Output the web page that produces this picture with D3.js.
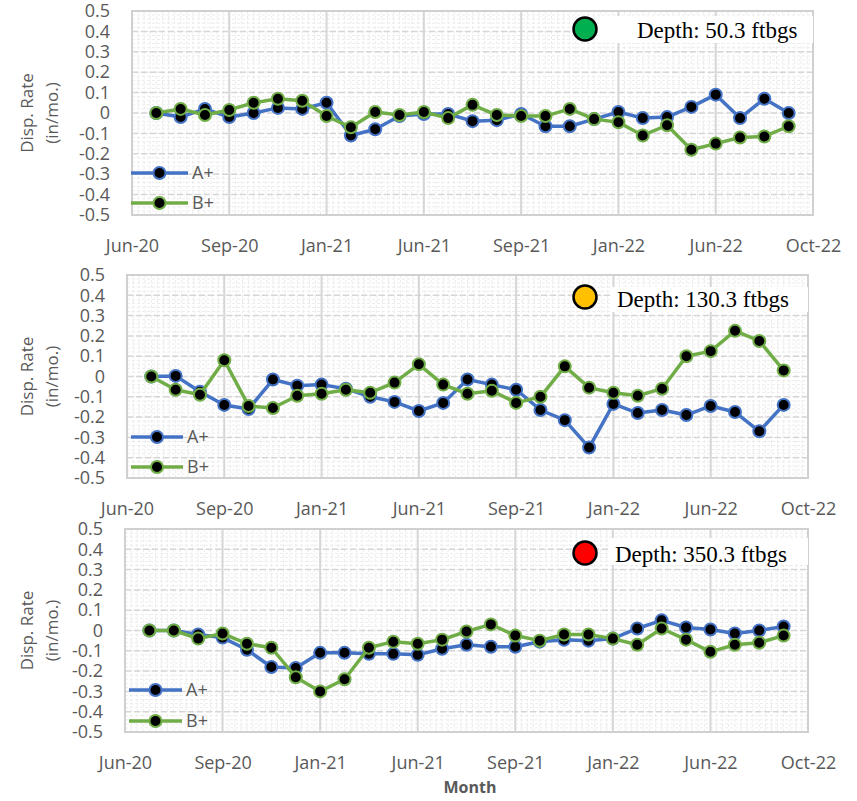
<!DOCTYPE html>
<html>
<head>
<meta charset="utf-8">
<script src="https://cdn.jsdelivr.net/npm/d3@7"></script>
<style>
  html, body { margin: 0; padding: 0; background: #fff; }
  svg { display: block; }
  text { font-family: "Open Sans", "Liberation Sans", sans-serif; }
</style>
</head>
<body>
<script>
// Axis labels
const months = ["Jun-20", "Sep-20", "Jan-21", "Jun-21", "Sep-21", "Jan-22", "Jun-22", "Oct-22"];
const yTicks = [0.5, 0.4, 0.3, 0.2, 0.1, 0, -0.1, -0.2, -0.3, -0.4, -0.5];

// Observation positions along the time axis (4 slots per labelled interval)
const obsIndex = [1, 2, 3, 4, 5, 6, 7, 8, 9, 10, 11, 12, 13, 14, 15, 16, 17, 18, 19, 20, 21, 22, 23, 24, 25, 26, 27];

// Displacement rates (in/mo.) at 50.3 ftbgs
const a50 = [0.0, -0.02, 0.02, -0.02, 0.0, 0.025, 0.02, 0.05, -0.11, -0.08, -0.015, -0.005, -0.005, -0.04,
             -0.035, -0.005, -0.065, -0.065, -0.03, 0.005, -0.025, -0.02, 0.03, 0.09, -0.025, 0.07, 0.0];
const b50 = [0.0, 0.02, -0.01, 0.015, 0.05, 0.07, 0.06, -0.015, -0.07, 0.005, -0.01, 0.005, -0.025, 0.04,
             -0.01, -0.015, -0.015, 0.02, -0.03, -0.045, -0.11, -0.06, -0.18, -0.15, -0.12, -0.115, -0.065];

// Displacement rates (in/mo.) at 130.3 ftbgs
const a130 = [0.0, 0.003, -0.075, -0.14, -0.16, -0.015, -0.045, -0.04, -0.06, -0.1, -0.125, -0.17, -0.13, -0.015,
              -0.04, -0.065, -0.165, -0.215, -0.35, -0.135, -0.18, -0.165, -0.19, -0.145, -0.175, -0.27, -0.14];
const b130 = [0.0, -0.065, -0.09, 0.08, -0.145, -0.155, -0.095, -0.085, -0.065, -0.08, -0.03, 0.06, -0.04, -0.085,
              -0.07, -0.13, -0.1, 0.05, -0.055, -0.08, -0.095, -0.06, 0.1, 0.125, 0.225, 0.175, 0.03];

// Displacement rates (in/mo.) at 350.3 ftbgs
const a350 = [0.0, 0.0, -0.02, -0.035, -0.095, -0.18, -0.185, -0.11, -0.11, -0.115, -0.115, -0.12, -0.09, -0.07,
              -0.08, -0.08, -0.055, -0.045, -0.05, -0.04, 0.01, 0.05, 0.015, 0.005, -0.015, 0.0, 0.02];
const b350 = [0.0, 0.0, -0.04, -0.015, -0.065, -0.085, -0.23, -0.3, -0.24, -0.085, -0.055, -0.065, -0.045, -0.005,
              0.03, -0.025, -0.05, -0.02, -0.02, -0.04, -0.07, 0.01, -0.045, -0.105, -0.07, -0.06, -0.025];

const seriesNames = ["A+", "B+"];
const seriesColors = ["#4472C4", "#70AD47"];

const depthLabels = ["Depth: 50.3 ftbgs", "Depth: 130.3 ftbgs", "Depth: 350.3 ftbgs"];
const depthColors = ["#00B050", "#FFC000", "#FF0000"];

const panelData = [[a50, b50], [a130, b130], [a350, b350]];

// Panel geometry
const layouts = [
  { left: 132, right: 813, top: 11,  bottom: 215,
    legendX: [131, 188], legendY: [173, 203],
    tagBox: [598, 16, 215, 27], tagCircle: [585, 29], tagText: [637, 38] },
  { left: 127, right: 808, top: 275, bottom: 478,
    legendX: [131, 183], legendY: [437, 467],
    tagBox: [611, 287, 197, 25], tagCircle: [585, 297], tagText: [617, 307] },
  { left: 125, right: 808, top: 529, bottom: 732,
    legendX: [129, 182], legendY: [690, 721],
    tagBox: [610, 538, 198, 27], tagCircle: [585, 553], tagText: [615, 562] }
];

const W = 857, H = 801;
const svg = d3.select("body").append("svg").attr("width", W).attr("height", H);

const tickColor = "#595959";

layouts.forEach((L, p) => {
  const g = svg.append("g");
  const x = d3.scaleLinear().domain([0, 28]).range([L.left, L.right]);
  const xLab = d3.scalePoint().domain(months).range([L.left, L.right]);
  const y = d3.scaleLinear().domain([-0.5, 0.5]).range([L.bottom, L.top]);

  // fine background grid
  const grid = g.append("g");
  grid.selectAll("line.mh").data(d3.range(-25, 26)).join("line")
    .attr("x1", L.left).attr("x2", L.right)
    .attr("y1", d => y(d * 0.02)).attr("y2", d => y(d * 0.02))
    .attr("stroke", "#ececec").attr("stroke-width", 1).attr("stroke-dasharray", "3,2");
  grid.selectAll("line.mv").data(d3.range(0, 113)).join("line")
    .attr("y1", L.top).attr("y2", L.bottom)
    .attr("x1", d => x(d * 0.25)).attr("x2", d => x(d * 0.25))
    .attr("stroke", "#ececec").attr("stroke-width", 1).attr("stroke-dasharray", "3,2");

  // major gridlines
  grid.selectAll("line.hh").data(yTicks).join("line")
    .attr("x1", L.left).attr("x2", L.right)
    .attr("y1", d => y(d)).attr("y2", d => y(d))
    .attr("stroke", "#d6d6d6").attr("stroke-width", 1.5).attr("stroke-dasharray", "6,3");
  grid.selectAll("line.vv").data(months).join("line")
    .attr("y1", L.top).attr("y2", L.bottom)
    .attr("x1", d => xLab(d)).attr("x2", d => xLab(d))
    .attr("stroke", "#d6d6d6").attr("stroke-width", 2);
  grid.append("rect")
    .attr("x", L.left).attr("y", L.top)
    .attr("width", L.right - L.left).attr("height", L.bottom - L.top)
    .attr("fill", "none").attr("stroke", "#d0d0d0").attr("stroke-width", 2);

  // axes
  const yAxis = g.append("g").attr("transform", `translate(${L.left},0)`)
    .call(d3.axisLeft(y).tickValues(yTicks).tickSize(0).tickPadding(22)
      .tickFormat(d => d === 0 ? "0" : d.toFixed(1)));
  yAxis.select(".domain").remove();
  yAxis.selectAll("text").attr("fill", tickColor).style("font-size", "18px")
    .style("font-family", "'Open Sans', sans-serif");

  const xAxis = g.append("g").attr("transform", `translate(0,${L.bottom})`)
    .call(d3.axisBottom(xLab).tickSize(0).tickPadding(24));
  xAxis.select(".domain").remove();
  xAxis.selectAll("text").attr("fill", tickColor).style("font-size", "18px")
    .style("font-family", "'Open Sans', sans-serif");

  // y title
  const cy = (L.top + L.bottom) / 2;
  const yt = g.append("text")
    .attr("transform", `translate(33,${cy}) rotate(-90)`)
    .attr("text-anchor", "middle").attr("fill", tickColor).style("font-size", "17px");
  yt.append("tspan").attr("x", 0).attr("dy", 0).text("Disp. Rate");
  yt.append("tspan").attr("x", 0).attr("dy", 25).text("(in/mo.)");

  // series
  const line = d3.line().x((d, i) => x(obsIndex[i])).y(d => y(d));
  panelData[p].forEach((vals, s) => {
    const sg = g.append("g");
    sg.append("path").datum(vals).attr("d", line)
      .attr("fill", "none").attr("stroke", seriesColors[s]).attr("stroke-width", 3.5)
      .attr("stroke-linejoin", "round");
    sg.selectAll("circle").data(vals).join("circle")
      .attr("cx", (d, i) => x(obsIndex[i])).attr("cy", d => y(d))
      .attr("r", 6).attr("fill", "#000").attr("stroke", seriesColors[s]).attr("stroke-width", 2);
  });

  // legend
  seriesNames.forEach((name, s) => {
    const ly = L.legendY[s];
    g.append("line").attr("x1", L.legendX[0]).attr("x2", L.legendX[1])
      .attr("y1", ly).attr("y2", ly)
      .attr("stroke", seriesColors[s]).attr("stroke-width", 3.5);
    g.append("circle").attr("cx", (L.legendX[0] + L.legendX[1]) / 2).attr("cy", ly)
      .attr("r", 6).attr("fill", "#000").attr("stroke", seriesColors[s]).attr("stroke-width", 2);
    g.append("text").attr("x", L.legendX[1] + 4).attr("y", ly + 6)
      .attr("fill", tickColor).style("font-size", "18px").text(name);
  });

  // depth tag
  g.append("rect").attr("x", L.tagBox[0]).attr("y", L.tagBox[1])
    .attr("width", L.tagBox[2]).attr("height", L.tagBox[3]).attr("fill", "#fff");
  g.append("circle").attr("cx", L.tagCircle[0]).attr("cy", L.tagCircle[1]).attr("r", 11.5)
    .attr("fill", depthColors[p]).attr("stroke", "#000").attr("stroke-width", 2.5);
  g.append("text").attr("x", L.tagText[0]).attr("y", L.tagText[1])
    .attr("fill", "#000").style("font-family", "'Liberation Serif', 'Times New Roman', serif")
    .style("font-size", "23px").text(depthLabels[p]);
});

// shared x title
svg.append("text").attr("x", 470).attr("y", 793).attr("text-anchor", "middle")
  .attr("fill", tickColor).style("font-size", "16px").style("font-weight", "bold").text("Month");
</script>
</body>
</html>
